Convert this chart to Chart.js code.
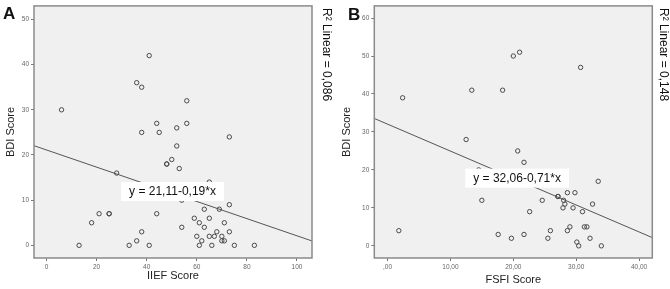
<!DOCTYPE html>
<html>
<head>
<meta charset="utf-8">
<script src="https://cdn.jsdelivr.net/npm/chart.js@4.4.1/dist/chart.umd.min.js"></script>
<style>
  html, body { margin: 0; padding: 0; background: #fff; }
  #wrap { position: relative; width: 670px; height: 289px; }
  canvas { position: absolute; top: 0; }
  #panelA { left: 0; }
  #panelB { left: 335px; }
</style>
</head>
<body>
<div id="wrap">
  <canvas id="panelA" width="335" height="289"></canvas>
  <canvas id="panelB" width="335" height="289"></canvas>
</div>
<script>
// Panel A : IIEF vs BDI
const iiefScore = [41, 36, 38, 56, 6, 44, 56, 52, 38, 45, 73, 52, 48, 48, 50, 53, 28, 65, 54, 73,
  63, 69, 21, 25, 25, 44, 59, 65, 18, 61, 71, 54, 63, 38, 68, 73, 60, 65, 67, 70,
  36, 62, 70, 71, 13, 33, 41, 61, 66, 75, 83];
const bdiScoreA = [42, 36, 35, 32, 30, 27, 27, 26, 25, 25, 24, 22, 18, 18, 19, 17, 16, 14, 10, 9,
  8, 8, 7, 7, 7, 7, 6, 6, 5, 5, 5, 4, 4, 3, 3, 3, 2, 2, 2, 2,
  1, 1, 1, 1, 0, 0, 0, 0, 0, 0, 0];
const xTicksA = [0, 20, 40, 60, 80, 100];
const yTicksA = [0, 10, 20, 30, 40, 50];

// Panel B : FSFI vs BDI
const fsfiScore = [2.4, 13.4, 18.3, 20, 21, 30.7, 12.5, 20.7, 21.7, 14.5, 33.5, 27.1, 27.1, 28.6, 29.8,
  15, 24.6, 28, 28.2, 32.6, 27.9, 29.5, 22.6, 31, 29, 31.3, 31.7, 1.8, 25.9, 28.6,
  17.6, 21.7, 19.7, 25.5, 32.2, 30.1, 30.4, 34];
const bdiScoreB = [39, 41, 41, 50, 51, 47, 28, 25, 22, 20, 17, 13, 13, 14, 14,
  12, 12, 12, 11, 11, 10, 10, 9, 9, 5, 5, 5, 4, 4, 4,
  3, 3, 2, 2, 2, 1, 0, 0];
const xTicksB = [0, 10, 20, 30, 40];
const yTicksB = [0, 10, 20, 30, 40, 50, 60];

// regression results as printed on the chart
const fitA = { b0: 21.11, b1: -0.19, r2: "0,086", text: "y = 21,11-0,19*x" };
const fitB = { b0: 32.06, b1: -0.71, r2: "0,148", text: "y = 32,06-0,71*x" };

const FONT = "'Liberation Sans', Arial, sans-serif";

const panelDeco = {
  id: "panelDeco",
  beforeDraw(chart) {
    const a = chart.chartArea, ctx = chart.ctx;
    ctx.save();
    ctx.fillStyle = "#f0f0f0";
    ctx.fillRect(a.left, a.top, a.right - a.left, a.bottom - a.top);
    ctx.restore();
  },
  afterDraw(chart) {
    const o = chart.options.plugins.panelDeco;
    const a = chart.chartArea, ctx = chart.ctx;
    const xs = chart.scales.x, ys = chart.scales.y;
    ctx.save();
    // frame
    ctx.strokeStyle = "#8a8a8a";
    ctx.lineWidth = 1.5;
    ctx.strokeRect(a.left, a.top, a.right - a.left, a.bottom - a.top);

    // equation box
    ctx.font = "12px " + FONT;
    const cx = xs.getPixelForValue(o.labelAt[0]);
    const cy = ys.getPixelForValue(o.labelAt[1]);
    const tw = ctx.measureText(o.fit.text).width;
    ctx.fillStyle = "#ffffff";
    ctx.fillRect(cx - tw / 2 - 8, cy - 10, tw + 16, 19);
    ctx.fillStyle = "#111";
    ctx.textAlign = "center";
    ctx.textBaseline = "middle";
    ctx.fillText(o.fit.text, cx, cy);

    // panel letter
    ctx.font = "bold 17px " + FONT;
    ctx.textAlign = "left";
    ctx.textBaseline = "top";
    ctx.fillText(o.letter, o.letterPos[0], o.letterPos[1]);

    // R2 text, rotated
    ctx.translate(o.r2Pos[0], o.r2Pos[1]);
    ctx.rotate(Math.PI / 2);
    ctx.font = "12px " + FONT;
    ctx.textAlign = "left";
    ctx.textBaseline = "middle";
    ctx.fillText("R\u00b2 Linear = " + o.fit.r2, 0, 0);
    ctx.restore();
  },
};

function makePanel(id, xs, ys, fit, cfg) {
  const points = xs.map((v, i) => ({ x: v, y: ys[i] }));
  const line = [
    { x: cfg.xMin, y: fit.b0 + fit.b1 * cfg.xMin },
    { x: cfg.xMax, y: fit.b0 + fit.b1 * cfg.xMax },
  ];
  const tickStyle = { font: { size: 6.5, family: FONT }, color: "#666", padding: 2 };
  const gridStyle = { drawOnChartArea: false, drawTicks: true, tickLength: 3, color: "#777" };
  return new Chart(document.getElementById(id), {
    type: "scatter",
    data: {
      datasets: [
        {
          data: points,
          pointRadius: 2.2,
          pointBorderWidth: 1,
          pointBorderColor: "#4a4a4a",
          pointBackgroundColor: "rgba(0,0,0,0)",
        },
        {
          type: "line",
          data: line,
          borderColor: "#555",
          borderWidth: 1,
          pointRadius: 0,
          fill: false,
        },
      ],
    },
    options: {
      responsive: false,
      animation: false,
      layout: { padding: { left: 0, top: 5, right: cfg.padRight, bottom: 0 } },
      plugins: {
        legend: { display: false },
        tooltip: { enabled: false },
        panelDeco: cfg.deco,
      },
      scales: {
        x: {
          type: "linear",
          min: cfg.xMin,
          max: cfg.xMax,
          afterBuildTicks: (axis) => { axis.ticks = cfg.xTicks.map((v) => ({ value: v })); },
          afterFit: (s) => { s.height = 31; },
          ticks: { ...tickStyle, maxRotation: 0, callback: cfg.xFmt },
          grid: gridStyle,
          border: { display: false },
          title: {
            display: true,
            text: cfg.xTitle,
            color: "#222",
            font: { size: 11, family: FONT },
            padding: { top: 0, bottom: cfg.xTitlePad },
          },
        },
        y: {
          type: "linear",
          min: cfg.yMin,
          max: cfg.yMax,
          afterBuildTicks: (axis) => { axis.ticks = cfg.yTicks.map((v) => ({ value: v })); },
          afterFit: (s) => { s.width = cfg.yWidth; },
          ticks: tickStyle,
          grid: gridStyle,
          border: { display: false },
          title: {
            display: true,
            text: "BDI Score",
            color: "#222",
            font: { size: 11, family: FONT },
            padding: { top: cfg.yTitlePad, bottom: 0 },
          },
        },
      },
    },
    plugins: [panelDeco],
  });
}

makePanel("panelA", iiefScore, bdiScoreA, fitA, {
  xMin: -5, xMax: 106, yMin: -2.8, yMax: 53,
  xTicks: xTicksA, yTicks: yTicksA,
  xFmt: (v) => String(v),
  xTitle: "IIEF Score", xTitlePad: 6, yTitlePad: 4.4,
  yWidth: 34, padRight: 23,
  deco: { fit: fitA, labelAt: [50.3, 11.8], letter: "A", letterPos: [3, 6], r2Pos: [326, 8] },
});

makePanel("panelB", fsfiScore, bdiScoreB, fitB, {
  xMin: -2.1, xMax: 42.1, yMin: -3.2, yMax: 63.2,
  xTicks: xTicksB, yTicks: yTicksB,
  xFmt: (v) => (v === 0 ? ",00" : v + ",00"),
  xTitle: "FSFI Score", xTitlePad: 2, yTitlePad: 5.4,
  yWidth: 39.3, padRight: 17.7,
  deco: { fit: fitB, labelAt: [20.6, 17.7], letter: "B", letterPos: [13, 7], r2Pos: [328, 8] },
});
</script>
</body>
</html>
